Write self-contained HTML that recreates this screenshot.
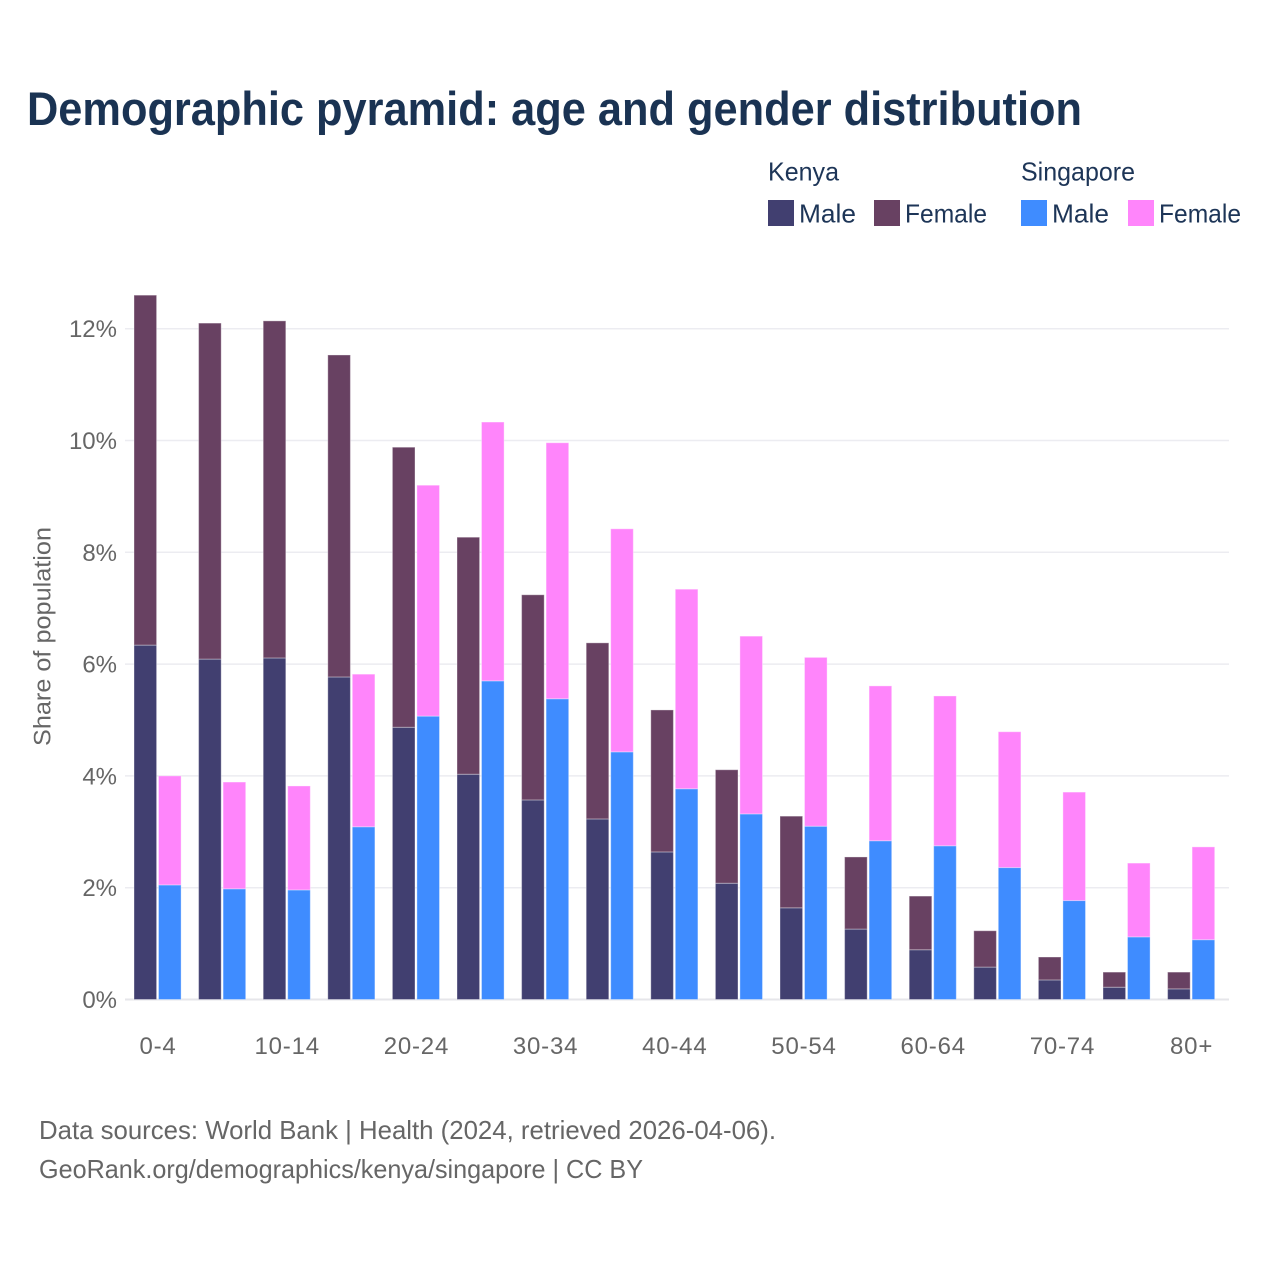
<!DOCTYPE html>
<html>
<head>
<meta charset="utf-8">
<style>
html,body{margin:0;padding:0;background:#fff;width:1280px;height:1280px;overflow:hidden}
svg{display:block}
text{font-family:"Liberation Sans",sans-serif}
.leg{font-size:26px;fill:#1d3557}
.foot{font-size:26px;fill:#666}
.tick{font-size:24px;fill:#666}
</style>
</head>
<body>
<svg id="chart" width="1280" height="1280" viewBox="0 0 1280 1280" xmlns="http://www.w3.org/2000/svg">
  <text x="27" y="125" font-size="47" font-weight="700" fill="#1a3353" textLength="1055" lengthAdjust="spacingAndGlyphs">Demographic pyramid: age and gender distribution</text>

  <g>
    <text class="leg" x="768" y="180.5" textLength="71" lengthAdjust="spacingAndGlyphs">Kenya</text>
    <text class="leg" x="1021" y="180.5" textLength="114" lengthAdjust="spacingAndGlyphs">Singapore</text>
    <rect x="768" y="200" width="26" height="26" fill="#413f70"/>
    <text class="leg" x="799" y="222.5" textLength="57" lengthAdjust="spacingAndGlyphs">Male</text>
    <rect x="874" y="200" width="26" height="26" fill="#684162"/>
    <text class="leg" x="905" y="222.5" textLength="82" lengthAdjust="spacingAndGlyphs">Female</text>
    <rect x="1021" y="200" width="26" height="26" fill="#3f8cff"/>
    <text class="leg" x="1052" y="222.5" textLength="57" lengthAdjust="spacingAndGlyphs">Male</text>
    <rect x="1128" y="200" width="26" height="26" fill="#ff85fb"/>
    <text class="leg" x="1159" y="222.5" textLength="82" lengthAdjust="spacingAndGlyphs">Female</text>
  </g>

  <g id="grid"></g>
  <g id="bars"></g>
  <g id="yticks"></g>
  <g id="xticks"></g>

  <text transform="translate(50.5,746) rotate(-90)" font-size="24" fill="#666" textLength="219" lengthAdjust="spacingAndGlyphs">Share of population</text>

  <text class="foot" x="39" y="1139" textLength="737" lengthAdjust="spacingAndGlyphs">Data sources: World Bank | Health (2024, retrieved 2026-04-06).</text>
  <text class="foot" x="39" y="1178" textLength="604" lengthAdjust="spacingAndGlyphs">GeoRank.org/demographics/kenya/singapore | CC BY</text>
</svg>
<script>
const categories = ["0-4","5-9","10-14","15-19","20-24","25-29","30-34","35-39","40-44","45-49","50-54","55-59","60-64","65-69","70-74","75-79","80+"];
const xTickLabels = ["0-4","10-14","20-24","30-34","40-44","50-54","60-64","70-74","80+"];
const yTickValues = [0,2,4,6,8,10,12];
const kenyaMale = [6.34,6.09,6.11,5.77,4.87,4.03,3.57,3.23,2.64,2.08,1.64,1.26,0.89,0.58,0.35,0.22,0.19];
const kenyaFemale = [6.26,6.01,6.03,5.76,5.01,4.24,3.67,3.15,2.54,2.03,1.64,1.29,0.96,0.65,0.41,0.27,0.30];
const singaporeMale = [2.05,1.98,1.96,3.09,5.07,5.70,5.38,4.43,3.77,3.32,3.10,2.84,2.75,2.36,1.77,1.12,1.07];
const singaporeFemale = [1.95,1.91,1.86,2.73,4.13,4.63,4.58,3.99,3.57,3.18,3.02,2.77,2.68,2.43,1.94,1.32,1.66];

const NS = "http://www.w3.org/2000/svg";
const plotLeft = 125.7, plotRight = 1229, bandStep = 64.6;
const yZero = 999.5, pxPerUnit = 55.9, barWidth = 22.6;
const yScale = v => yZero - v * pxPerUnit;
const xBand = i => plotLeft + bandStep * i;

function make(tag, attrs, parent) {
  const el = document.createElementNS(NS, tag);
  for (const k in attrs) el.setAttribute(k, attrs[k]);
  parent.appendChild(el);
  return el;
}

const gridG = document.getElementById("grid");
const yG = document.getElementById("yticks");
yTickValues.forEach(v => {
  const line = make("line", {x1: 125, x2: plotRight, y1: yScale(v), y2: yScale(v), stroke: v === 0 ? "#e6e6ea" : "#ececf1", "stroke-width": v === 0 ? 2 : 1.5}, gridG);
  
  
  const t = make("text", {x: 117, y: yScale(v) + 8.5, "text-anchor": "end", class: "tick"}, yG);
  
  
  t.textContent = v + "%";
});

const xG = document.getElementById("xticks");
xTickLabels.forEach(label => {
  const i = categories.indexOf(label);
  const t = make("text", {x: xBand(i) + bandStep / 2, y: 1054, "text-anchor": "middle", class: "tick", "letter-spacing": "0.8"}, xG);
  
  
  t.textContent = label;
});

const barsG = document.getElementById("bars");
function drawRect(x, base, value, fill) {
  const y = yScale(base + value);
  const h = value * pxPerUnit;
  const r = make("rect", {x: x, y: y, width: barWidth, height: h, fill: fill, stroke: "#ffffff", "stroke-opacity": 0.35, "stroke-width": 1}, barsG);
  return r;
}
categories.forEach((c, i) => {
  const x1 = xBand(i) + 8.3;
  const x2 = xBand(i) + 32.8;
  const a = drawRect(x1, 0, kenyaMale[i], "#413f70");
  
  
  const b = drawRect(x1, kenyaMale[i], kenyaFemale[i], "#684162");
  
  
  const d = drawRect(x2, 0, singaporeMale[i], "#3f8cff");
  
  
  const e = drawRect(x2, singaporeMale[i], singaporeFemale[i], "#ff85fb");
  
  
});
</script>
</body>
</html>
